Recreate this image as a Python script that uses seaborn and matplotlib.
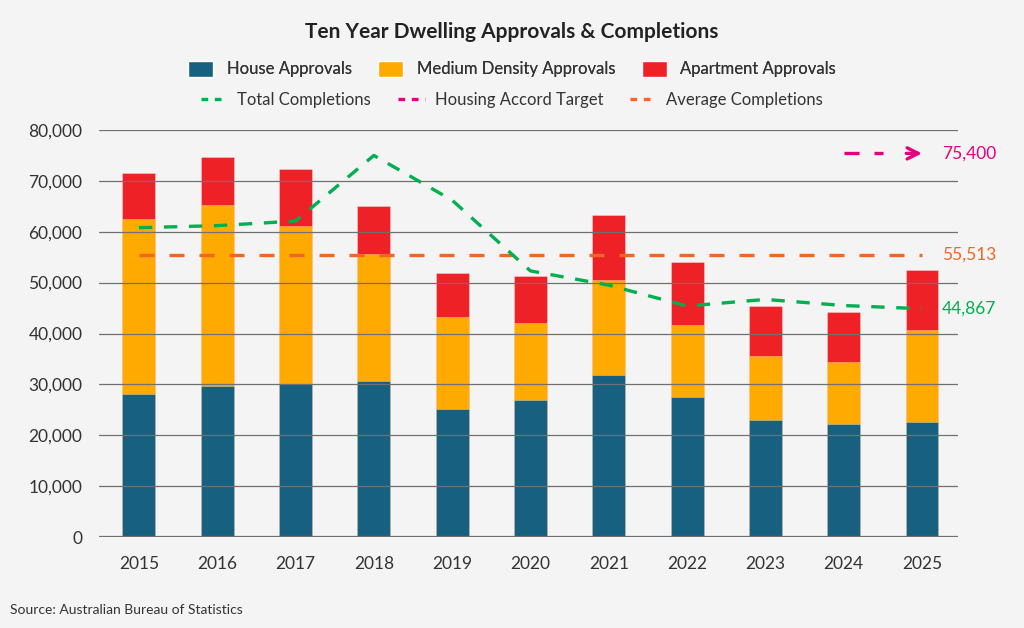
import matplotlib
matplotlib.use("Agg")
import matplotlib.pyplot as plt
from matplotlib.lines import Line2D
from matplotlib.patches import Patch
import pandas as pd
import seaborn as sns

years = [2015, 2016, 2017, 2018, 2019, 2020, 2021, 2022, 2023, 2024, 2025]
house = [28200, 29700, 30000, 30600, 25100, 27000, 31800, 27600, 22900, 22300, 22700]
medium = [34300, 35600, 31100, 25000, 18100, 15100, 18800, 14100, 12700, 12100, 18000]
apartment = [9100, 9400, 11200, 9400, 8600, 9200, 12700, 12400, 9800, 9800, 11800]
completions = [60800, 61200, 62100, 75000, 66200, 52300, 49500, 45400, 46700, 45500, 44867]
average_completions = 55513
accord_target = 75400
accord_years = [2024, 2025]

BLUE = "#17607f"
YELLOW = "#ffaa00"
RED = "#ee2127"
GREEN = "#00b050"
PINK = "#e6007e"
ORANGE = "#f26522"
BG = "#f4f4f4"

df = pd.DataFrame({"year": years, "house": house, "medium": medium, "apartment": apartment,
                   "completions": completions})
df["house_medium"] = df["house"] + df["medium"]
df["total"] = df["house_medium"] + df["apartment"]
df["average"] = average_completions

sns.set_style("white")
plt.rcParams["font.family"] = ["Lato", "DejaVu Sans"]

fig = plt.figure(figsize=(10.24, 6.28), dpi=100, facecolor=BG)
ax = fig.add_axes([99 / 1024, 1 - 537 / 628, (958 - 99) / 1024, (537 - 130) / 628])
ax.set_facecolor(BG)

# stacked bars, drawn tallest first
for col, color in [("total", RED), ("house_medium", YELLOW), ("house", BLUE)]:
    sns.barplot(data=df, x="year", y=col, color=color, native_scale=True, width=0.42,
                saturation=1, edgecolor=(1, 1, 1, 0.35), linewidth=0.6, ax=ax, zorder=1)

sns.lineplot(data=df, x="year", y="average", color=ORANGE, lw=2.4, ax=ax, zorder=3)
ax.lines[-1].set_dashes((4.5, 4.5))
sns.lineplot(data=df, x="year", y="completions", color=GREEN, lw=2.4, ax=ax, zorder=4)
ax.lines[-1].set_dashes((4, 3.5))

# housing accord target: two dashes then an open arrow
target_df = pd.DataFrame({"year": [accord_years[0], accord_years[1] - 0.5],
                          "target": [accord_target] * 2})
sns.lineplot(data=target_df, x="year", y="target", color=PINK, lw=2.4, ax=ax, zorder=4)
ax.lines[-1].set_dashes((4.5, 4.5))
ax.annotate("", xy=(accord_years[1], accord_target), xytext=(accord_years[1] - 0.2, accord_target),
            arrowprops=dict(arrowstyle="->", color=PINK, lw=2.4, mutation_scale=20,
                            shrinkA=0, shrinkB=0), zorder=5)

# value labels on the right
for val, color in [(accord_target, PINK), (average_completions, ORANGE), (completions[-1], GREEN)]:
    ax.annotate(f"{val:,}", xy=(years[-1], val), xytext=(14.5, 0), textcoords="offset points",
                color=color, fontsize=12.5, va="center", ha="left", annotation_clip=False)

ax.set_xlim(years[0] - 0.51, years[0] + 10.46)
ax.set_ylim(0, 80000)
ax.set_xticks(years)
ax.set_xticklabels([str(y) for y in years])
ax.set_yticks(range(0, 80001, 10000))
ax.yaxis.set_major_formatter(matplotlib.ticker.FuncFormatter(lambda v, p: f"{int(v):,}"))
ax.tick_params(axis="both", length=0, labelsize=12.5, labelcolor="#333333")
ax.tick_params(axis="x", pad=14)
ax.tick_params(axis="y", pad=12)
ax.set_xlabel("")
ax.set_ylabel("")
ax.set_axisbelow(False)
ax.grid(axis="y", color="#707070", lw=0.9)
ax.grid(axis="x", visible=False)
sns.despine(ax=ax, left=True, bottom=True)
ax.axhline(0, color="#707070", lw=1.6, zorder=2.6)

fig.text(0.5, 1 - 32 / 628, "Ten Year Dwelling Approvals & Completions", ha="center", va="center",
         fontsize=15, fontweight="bold", color="#222222")

bar_handles = [Patch(facecolor=BLUE, label="House Approvals"),
               Patch(facecolor=YELLOW, label="Medium Density Approvals"),
               Patch(facecolor=RED, label="Apartment Approvals")]
line_handles = [Line2D([], [], color=GREEN, lw=2.4, dashes=(2, 2), label="Total Completions"),
                Line2D([], [], color=PINK, lw=2.4, dashes=(2, 2), label="Housing Accord Target"),
                Line2D([], [], color=ORANGE, lw=2.4, dashes=(2, 2), label="Average Completions")]
leg1 = fig.legend(handles=bar_handles, loc="center", bbox_to_anchor=(0.5, 1 - 69 / 628), ncol=3,
                  frameon=False, fontsize=12, handlelength=1.5, handleheight=1.1, columnspacing=1.6,
                  handletextpad=0.8, labelcolor="#333333")
fig.add_artist(leg1)
fig.legend(handles=line_handles, loc="center", bbox_to_anchor=(0.5, 1 - 100 / 628), ncol=3,
           frameon=False, fontsize=12, handlelength=1.6, columnspacing=1.6, handletextpad=0.6,
           labelcolor="#333333")

fig.text(10 / 1024, 1 - 610 / 628, "Source: Australian Bureau of Statistics", ha="left", va="center",
         fontsize=10, color="#333333")

fig.savefig("out.png", dpi=100, facecolor=BG)
